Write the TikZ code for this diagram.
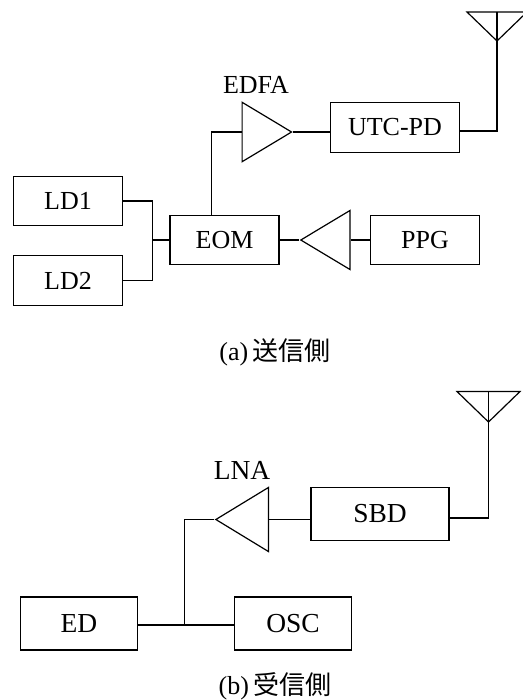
\documentclass[tikz,border=0pt]{standalone}
\usepackage{fontspec}
\setmainfont{Liberation Serif}
\newfontfamily\cjk{Noto Sans CJK JP}
\usetikzlibrary{shapes.geometric}
\begin{document}
\begin{tikzpicture}[x=0.75pt,y=-0.75pt,line width=0.9pt,
box node/.style={rectangle,draw,inner sep=0pt},
top node/.style={box node,minimum width=81.75pt,minimum height=37.2pt},
bot node/.style={box node,minimum width=87.75pt,minimum height=39.75pt},
amp node/.style={isosceles triangle,draw,inner sep=0pt,isosceles triangle stretches,anchor=lower side},
cap node/.style={inner sep=0pt,font=\fontsize{19.5}{22}\selectfont}]%
\useasboundingbox (0,0) rectangle (522,700);
\begin{scope}[every node/.style={font=\fontsize{19.5}{22}\selectfont}]
\node[top node] (ld1) at (68,201) {LD1};
\node[top node] (ld2) at (68,280.5) {LD2};
\node[top node] (eom) at (224.5,240) {EOM};
\node[top node] (ppg) at (425,240) {PPG};
\node[top node,minimum width=96.75pt] (utcpd) at (395,127.5) {UTC-PD};
\node[amp node,minimum height=37.1pt,minimum width=44.6pt] (edfa) at (241.5,132) {};
\node[amp node,minimum height=36.8pt,minimum width=44.2pt,shape border rotate=180] (drv) at (350.5,240) {};
\node[inner sep=0pt] (edfalabel) at (256,85) {EDFA};
\end{scope}
\begin{scope}[every node/.style={font=\fontsize{20.6}{24}\selectfont}]
\node[bot node,minimum width=103.5pt] (sbd) at (380,514) {SBD};
\node[bot node] (ed) at (79,623.5) {ED};
\node[bot node] (osc) at (293,623.5) {OSC};
\node[amp node,minimum height=39.4pt,minimum width=48pt,shape border rotate=180] (lna) at (269,519.5) {};
\node[inner sep=0pt] (lnalabel) at (242,470) {LNA};
\end{scope}
\node[cap node] (capa) at (275,352) {(a)\,{\cjk 送信側}};
\node[cap node] (capb) at (275,686.5) {(b)\,{\cjk 受信側}};
\coordinate (ant1) at (497,41);
\coordinate (ant1l) at (467,12);
\coordinate (ant1r) at (527,12);
\coordinate (ant1t) at (497,12);
\coordinate (ant1b) at (497,131);
\coordinate (ant2) at (488.5,422);
\coordinate (ant2l) at (457,391.5);
\coordinate (ant2r) at (520,391.5);
\coordinate (ant2t) at (488.5,391.5);
\coordinate (ant2b) at (488.5,518);
\coordinate (jct1) at (152.5,240);
\coordinate (jct2) at (184.5,625);
\draw (ant1l) -- (ant1r) -- (ant1) -- cycle;
\draw (ant2l) -- (ant2r) -- (ant2) -- cycle;
\draw (ant1t) -- (ant1b) -- (ant1b -| utcpd.east);
\draw (ant2t) -- (ant2b) -- (ant2b -| sbd.east);
\draw (ld1.east) -| (jct1);
\draw (ld2.east) -| (jct1);
\draw (jct1) -- (eom.west);
\draw (eom.north -| 211.5,0) |- (edfa.lower side);
\draw (edfa.apex) -- (edfa.apex -| utcpd.west);
\draw (eom.east) -- (drv.apex);
\draw (drv.lower side) -- (ppg.west);
\draw (sbd.west |- lna.lower side) -- (lna.lower side);
\draw (lna.apex) -| (jct2);
\draw (jct2 -| ed.east) -- (jct2 -| osc.west);
\end{tikzpicture}
\end{document}
